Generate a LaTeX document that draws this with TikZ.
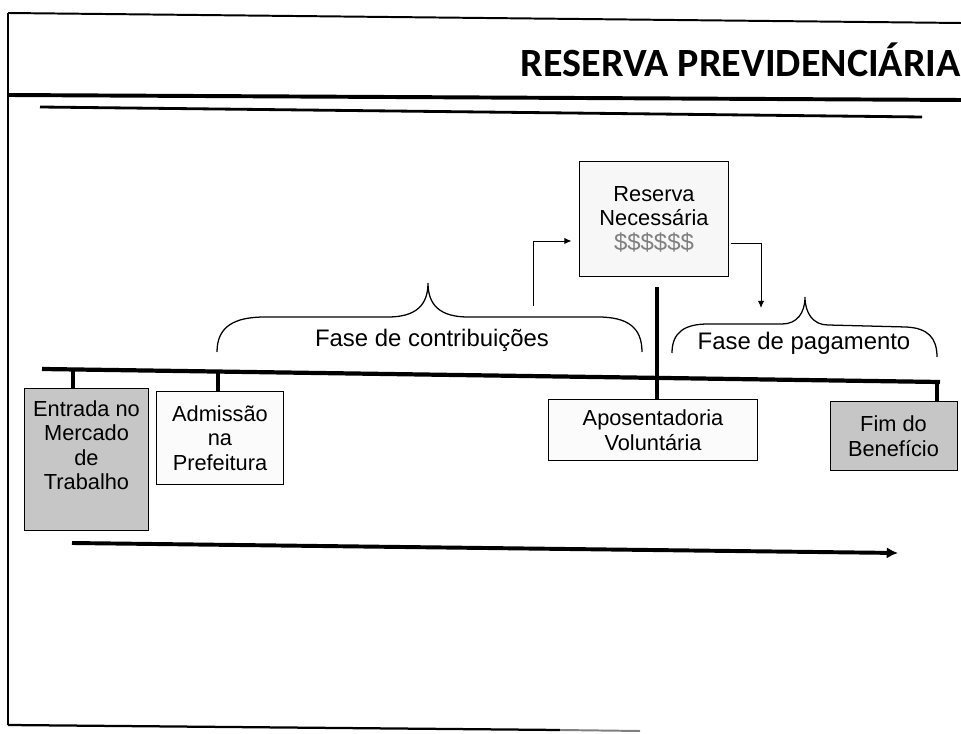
\documentclass[tikz,border=0pt]{standalone}
\usepackage{fontspec}
\setmainfont{Liberation Sans}
\newfontfamily\titlefont{Carlito}
\usetikzlibrary{arrows.meta,calc}

\begin{document}
\begin{tikzpicture}[x=0.025cm,y=-0.025cm,
  box/.style={draw,line width=0.7pt,align=center,inner sep=0pt,
    font=\fontsize{15.5}{17.5}\selectfont},
  lightbox/.style={box,fill=gray!6},
  darkbox/.style={box,fill=gray!45},
  tick/.style={line width=2.2pt},
  link/.style={line width=0.7pt,-{Latex[length=5pt,width=4.5pt]}},
  brace/.style={line width=0.9pt},
  phase/.style={font=\fontsize{17}{19}\selectfont,anchor=base,inner sep=0pt}]
\useasboundingbox (0,0) rectangle (961,734);
% moldura
\draw[line width=1.4pt] (8,13) -- (961,23);
\draw[line width=1pt] (8,13) -- (8,725);
\draw[line width=1.6pt] (8,725) -- (560,730);
\draw[line width=1.4pt,gray] (560,730) -- (640,731);
\draw[line width=2.8pt] (8,95) -- (961,100);
\draw[line width=2pt] (40,107) -- (922,117);
\node[anchor=base east,inner sep=0pt,font=\titlefont\bfseries\fontsize{28.5}{34}\selectfont] (titulo) at (961,77) {RESERVA PREVIDENCIÁRIA};

\node[lightbox,minimum width=3.70cm,minimum height=2.85cm] (reserva) at (654,219) {Reserva\\Necessária\\{\fontsize{17}{18}\selectfont\color{gray}\$\$\$\$\$\$}};
\node[darkbox,minimum width=3.075cm,minimum height=3.525cm] (entrada) at (86.5,459.5) {};
\node[align=center,inner sep=0pt,anchor=north,font=\fontsize{15.5}{17.5}\selectfont] (entradatxt) at (86.5,400) {Entrada no\\Mercado\\de\\Trabalho};
\node[lightbox,fill=gray!3,minimum width=3.15cm,minimum height=2.30cm] (admissao) at (220,438) {Admissão\\na\\Prefeitura};
\node[lightbox,fill=gray!3,minimum width=5.20cm,minimum height=1.50cm] (aposentadoria) at (653,430) {Aposentadoria\\Voluntária};
\node[darkbox,minimum width=3.175cm,minimum height=1.70cm] (fim) at (893.5,436) {Fim do\\Benefício};

% linha do tempo
\draw[line width=3pt] (42,369) -- (940,382);
\coordinate (k1) at (73,369.5);
\coordinate (k2) at (218,371.5);
\coordinate (k3) at (657,287);
\coordinate (k4) at (937,382);
\draw[tick] (k1) -- (k1 |- entrada.north);
\draw[tick] (k2) -- (k2 |- admissao.north);
\draw[tick] (k3) -- (k3 |- aposentadoria.north);
\draw[tick] (k4) -- (k4 |- fim.north);

% chaves
\draw[brace] (217,352) .. controls (217,326) and (235,317) .. (265,317) -- (388,317)
  .. controls (416,317) and (428,305) .. (428,283)
  .. controls (428,305) and (440,317) .. (468,317) -- (598,317)
  .. controls (627,317) and (642,327) .. (642,352);
\draw[brace] (672,353) .. controls (672,332) and (685,324) .. (708,324) -- (782,324)
  .. controls (797,324) and (805,313) .. (805,297)
  .. controls (805,313) and (813,325) .. (828,325) -- (906,327)
  .. controls (928,328) and (937,338) .. (937,357);
\node[phase] (contrib) at (432,347) {Fase de contribuições};
\node[phase] (pagto) at (804,350) {Fase de pagamento};

\coordinate (sobe) at (533,306);
\coordinate (desce) at (761,308);
\draw[link] (sobe) |- ($(reserva.west)+(-8,22)$);
\draw[link] ($(reserva.east)+(2,24)$) -| (desce);

\coordinate (t0) at (72,543);
\coordinate (t1) at (898,553);
\draw[line width=2.8pt,-{Latex[length=8pt,width=8pt]}] (t0) -- (t1);
\end{tikzpicture}
\end{document}
